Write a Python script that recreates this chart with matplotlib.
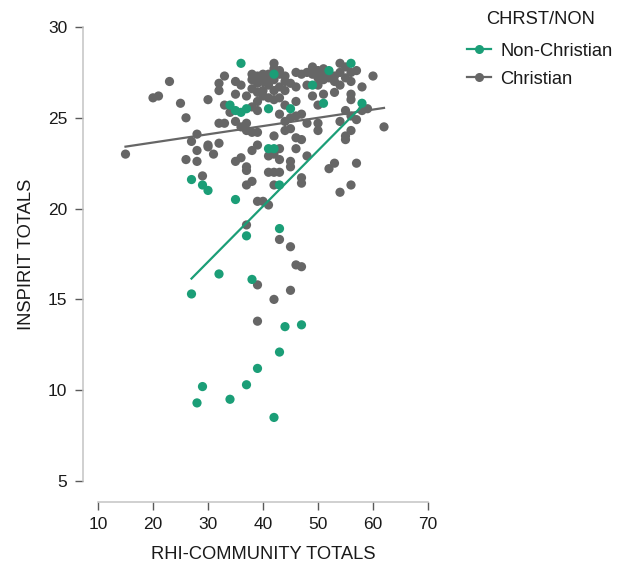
import matplotlib
matplotlib.use("Agg")
import matplotlib.pyplot as plt
import numpy as np

plt.rcParams['font.family'] = ['Liberation Sans', 'DejaVu Sans']

# --- data ---
non_x = [36, 56, 42, 52, 49, 34, 35, 36, 37, 41, 45, 51, 58, 41, 42,
         27, 29, 30, 43, 35, 43, 37, 32, 38, 27, 47, 44, 43, 39, 29,
         37, 34, 28, 42]
non_y = [28.0, 28.0, 27.4, 27.6, 26.8, 25.7, 25.4, 25.3, 25.5, 25.5, 25.5, 25.8, 25.8, 23.3, 23.3,
         21.6, 21.3, 21.0, 21.3, 20.5, 18.9, 18.5, 16.4, 16.1, 15.3, 13.6, 13.5, 12.1, 11.2, 10.2,
         10.3, 9.5, 9.3, 8.5]

chr_x = [15, 20, 21, 23, 25, 26, 26, 27, 28, 28, 28, 29, 30, 30, 30, 31, 32, 32, 32, 32,
         33, 33, 33, 34, 35, 35, 35, 35, 36, 36, 37, 37, 37, 37, 37, 37, 37,
         38, 38, 38, 38, 38, 38, 39, 39, 39, 39, 39, 39, 39, 39, 39,
         40, 40, 40, 40, 41, 41, 41, 41, 41, 41,
         42, 42, 42, 42, 42, 42, 42, 42, 42, 42,
         43, 43, 43, 43, 43, 43, 43, 43,
         44, 44, 44, 44, 44, 45, 45, 45, 45, 45, 45,
         46, 46, 46, 46, 46, 46, 46, 47, 47, 47, 47, 47, 47,
         48, 48, 48, 48, 49, 49, 49, 50, 50, 50, 50, 50, 51, 51, 51,
         52, 52, 53, 53, 53, 54, 54, 54, 54, 55, 55, 55, 55,
         56, 56, 56, 56, 56, 56, 56, 57, 57, 58, 58, 59, 60, 62,
         49, 51, 53, 55, 57, 50, 54,
         36, 38, 39, 40, 41, 43, 44, 45]
chr_y = [23.0, 26.1, 26.2, 27.0, 25.8, 25.0, 22.7, 23.7, 24.1, 23.2, 22.6, 21.8, 26.0, 23.5, 23.4, 23.0, 23.6, 24.7, 26.5, 26.9,
         27.3, 24.7, 25.7, 25.3, 27.0, 26.3, 24.8, 22.6, 22.8, 24.5, 26.2, 24.7, 24.3, 22.3, 22.1, 21.3, 19.1,
         27.1, 26.6, 25.6, 24.2, 23.2, 21.5, 27.3, 26.4, 25.9, 25.4, 24.2, 23.5, 20.4, 15.8, 13.8,
         27.4, 26.5, 26.2, 20.4, 27.4, 26.8, 26.1, 22.9, 22.0, 20.2,
         28.0, 27.7, 27.1, 26.5, 26.0, 24.0, 23.0, 22.0, 21.3, 15.0,
         27.4, 26.7, 26.1, 25.2, 23.3, 22.7, 22.0, 18.3,
         27.3, 26.5, 25.7, 24.8, 24.3, 25.0, 24.4, 22.6, 22.3, 17.9, 15.5,
         27.5, 26.7, 25.9, 25.1, 23.9, 23.3, 16.9, 27.4, 25.2, 23.8, 21.7, 21.4, 16.8,
         27.5, 26.8, 24.7, 22.9, 27.8, 26.2, 27.4, 27.6, 26.8, 25.7, 24.7, 24.3, 27.7, 27.1, 26.3,
         27.2, 22.2, 27.3, 26.4, 22.5, 28.0, 26.8, 24.8, 20.9, 27.8, 25.4, 24.0, 23.8,
         27.5, 27.0, 26.3, 26.0, 25.1, 24.3, 21.3, 24.9, 22.5, 26.7, 25.4, 25.5, 27.3, 24.5,
         27.6, 27.5, 27.0, 27.2, 27.6, 27.2, 27.5,
         26.8, 27.4, 26.9, 27.0, 27.2, 27.6, 27.0, 26.9]

groups = ['Non-Christian', 'Christian']
colors = {'Non-Christian': '#1b9e77', 'Christian': '#666666'}

fig = plt.figure(figsize=(6.17, 5.69), dpi=100)
ax = fig.add_axes([98 / 617, 88 / 569, 330 / 617, 454 / 569])

# gray first, green on top
for name, xs, ys in [('Christian', chr_x, chr_y), ('Non-Christian', non_x, non_y)]:
    ax.scatter(xs, ys, s=44, color=colors[name], edgecolors='none', zorder=2)

# regression lines per group
handles = {}
for name, xs, ys in [('Christian', chr_x, chr_y), ('Non-Christian', non_x, non_y)]:
    xs = np.array(xs, dtype=float)
    ys = np.array(ys, dtype=float)
    b, a = np.polyfit(xs, ys, 1)
    xx = np.array([xs.min(), xs.max()])
    ax.plot(xx, a + b * xx, color=colors[name], lw=1.6, zorder=3)
    handles[name], = ax.plot([], [], color=colors[name], lw=1.6, marker='o', ms=6.5,
                             markeredgewidth=0)

ax.set_xlim(10, 70)
ax.set_ylim(5, 30)
ax.set_xticks(range(10, 71, 10))
ax.set_yticks(range(5, 31, 5))

for s in ['top', 'right']:
    ax.spines[s].set_visible(False)
ax.spines['left'].set_position(('outward', 11))
ax.spines['bottom'].set_position(('outward', 15))
ax.spines['left'].set_bounds(5, 30)
ax.spines['bottom'].set_bounds(10, 70)
for s in ['left', 'bottom']:
    ax.spines[s].set_color('#c4c4c4')
    ax.spines[s].set_linewidth(1.1)
ax.tick_params(colors='#5a5a5a', labelcolor='#1a1a1a', labelsize=12.5,
               length=6, width=1.0, pad=5)

ax.set_xlabel('RHI-COMMUNITY TOTALS', fontsize=13.2, color='#1a1a1a', labelpad=10)
ax.set_ylabel('INSPIRIT TOTALS', fontsize=13.2, color='#1a1a1a', labelpad=9)

leg = fig.legend([handles[g] for g in groups], groups, title='CHRST/NON',
                 loc='upper left', bbox_to_anchor=(451 / 617, 1 + 6 / 569),
                 frameon=False, fontsize=13.2, title_fontsize=13.2,
                 handlelength=1.3, handletextpad=0.5, labelspacing=0.6)
leg._legend_box.sep = 11
for t in leg.get_texts():
    t.set_color('#1a1a1a')
leg.get_title().set_color('#1a1a1a')

fig.savefig('out.png', dpi=100)
